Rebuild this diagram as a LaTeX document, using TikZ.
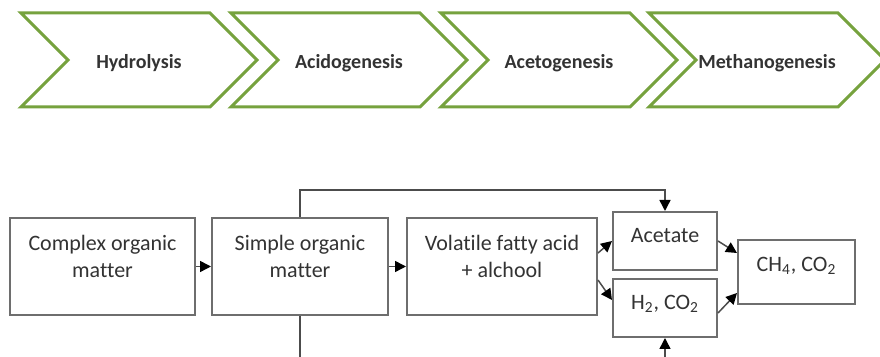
\documentclass[tikz,border=0pt]{standalone}
\usepackage{fontspec}
\setmainfont{Carlito}[Ligatures = NoCommon]
\usetikzlibrary{arrows.meta}
\usetikzlibrary{shapes}
\definecolor{stagegreen}{HTML}{76A23E}
\definecolor{boxgray}{HTML}{6E6E6E}
\definecolor{textgray}{HTML}{333333}

\begin{document}
\begin{tikzpicture}[x = 0.5pt, y = -0.5pt]
\tikzstyle{StageStyle} = [shape = signal, signal from = west, signal to = east, signal pointer angle = 90, minimum width = 118pt, minimum height = 47pt, inner sep = 0pt, text height = 11pt, text depth = 2pt, draw = stagegreen, line width = 1.5pt, fill = white, text = textgray, font = \fontsize{10}{12}\selectfont\bfseries]
\tikzstyle{BoxStyle} = [shape = rectangle, minimum height = 48.5pt, inner sep = 0pt, text depth = 10pt, draw = boxgray, line width = 1pt, fill = white, text = textgray, align = center, font = \fontsize{11}{13.5}\selectfont]
\tikzstyle{SmallBoxStyle} = [BoxStyle, minimum width = 52pt, minimum height = 29pt, text height = 7.5pt, text depth = 6pt]
\tikzstyle{EdgeStyle} = [draw = black!70, line width = 0.75pt, -{Triangle[length = 5.5pt, width = 5.5pt, black]}]
\useasboundingbox (0,0) rectangle (880,357);
% stages
\node[StageStyle] (s0) at (139,60) {Hydrolysis};
\node[StageStyle] (s1) at (349,60) {Acidogenesis};
\node[StageStyle] (s2) at (559,60) {Acetogenesis};
\node[StageStyle] (s3) at (767,60) {Methanogenesis};
% matter
\node[BoxStyle, minimum width = 92.5pt] (m0) at (102.5,266.5) {Complex organic\\matter};
\node[BoxStyle, minimum width = 88pt] (m1) at (300,266.5) {Simple organic\\matter};
\node[BoxStyle, minimum width = 95pt] (m2) at (502,266.5) {Volatile fatty acid\\+ alchool};
\node[SmallBoxStyle] (m3) at (665,241) {Acetate};
\node[SmallBoxStyle] (m4) at (665,308) {H\textsubscript{2}, CO\textsubscript{2}};
\node[SmallBoxStyle, minimum width = 58.5pt, minimum height = 32pt, text depth = 8pt] (m5) at (796.5,272) {CH\textsubscript{4}, CO\textsubscript{2}};
\draw[EdgeStyle] (m0) -- (m1);
\draw[EdgeStyle] (m1) -- (m2);
\draw[EdgeStyle] ([yshift = 6.75pt]m2.east) -- (m3.west);
\draw[EdgeStyle] ([yshift = -6.75pt]m2.east) -- ([yshift = 4pt]m4.west);
\draw[EdgeStyle] (m3.east) -- ([yshift = 9.5pt]m5.west);
\draw[EdgeStyle] ([yshift = -2.5pt]m4.east) -- ([yshift = -10.5pt]m5.west);
\draw[EdgeStyle] (m1.north) -- ++(0,-27) -| (m3.north);
\draw[EdgeStyle] (m1.south) -- ++(0,60) -| (m4.south);
\end{tikzpicture}
\end{document}
